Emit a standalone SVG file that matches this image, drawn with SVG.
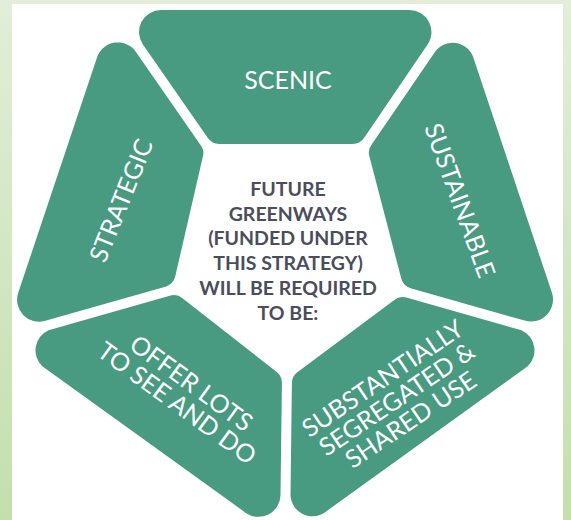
<svg xmlns="http://www.w3.org/2000/svg" width="571" height="520" viewBox="0 0 571 520">
<defs>
<linearGradient id="bg" x1="0" y1="0" x2="0" y2="1">
<stop offset="0" stop-color="#e2eed8"/>
<stop offset="1" stop-color="#c3dfad"/>
</linearGradient>
<style>
.seg{fill:#489a80}
.lbl{font-family:Lato,"Liberation Sans",sans-serif;font-size:25px;fill:#ffffff;text-anchor:middle;dominant-baseline:central}
.ctr{font-family:Lato,"Liberation Sans",sans-serif;font-size:19.5px;font-weight:bold;fill:#4a4d5c;text-anchor:middle}
</style>
</defs>
<rect width="571" height="520" fill="url(#bg)"/>
<rect x="12" y="4" width="551" height="516" fill="#ffffff"/>

<g id="scenic">
<path class="seg" d="M142.9,44.5 A22,22 0 0 1 161,10 L409,10 A22,22 0 0 1 427.4,44.7 L364.2,137.8 A14,14 0 0 1 352.5,144 L219.5,144 A14,14 0 0 1 207.7,137.8 Z"/>
<text class="lbl" x="288" y="79">SCENIC</text>
</g>

<g id="sustainable">
<path class="seg" d="M435.8,50.7 A22,22 0 0 1 472.8,55.9 L551.7,292.1 A22,22 0 0 1 524.6,320.6 L410.6,288.3 A14,14 0 0 1 401.4,279.1 L369.7,157.6 A14,14 0 0 1 372,144.1 Z"/>
<text class="lbl" transform="translate(461,200) rotate(70)" x="0" y="0">SUSTAINABLE</text>
</g>

<g id="substantially">
<path class="seg" d="M521.4,330.2 A22,22 0 0 1 527.7,366.2 L324.1,512.9 A22,22 0 0 1 290.5,495.4 L291.9,383.7 A14,14 0 0 1 298,371.7 L394,300.3 A14,14 0 0 1 407.2,297.8 Z"/>
<text class="lbl" transform="translate(396,398) rotate(-34)"><tspan x="0" y="-25">SUBSTANTIALLY</tspan><tspan x="0" y="0">SEGREGATED &amp;</tspan><tspan x="0" y="25">SHARED USE</tspan></text>
</g>

<g id="offer">
<path class="seg" d="M280.5,495.4 A22,22 0 0 1 245.9,512.9 L42.3,366.2 A22,22 0 0 1 48.6,330.2 L169.7,295.8 A14,14 0 0 1 182.8,298.4 L276.1,371.5 A14,14 0 0 1 281.9,383.6 Z"/>
<text class="lbl" transform="translate(185,392) rotate(36)"><tspan x="0" y="-12">OFFER LOTS</tspan><tspan x="0" y="12.5">TO SEE AND DO</tspan></text>
</g>

<g id="strategic">
<path class="seg" d="M45.3,320.8 A22,22 0 0 1 18.3,292.5 L97.6,55.8 A22,22 0 0 1 134.9,50.5 L200,144.3 A14,14 0 0 1 202.6,157.8 L175.1,277.1 A14,14 0 0 1 166.2,286.4 Z"/>
<text class="lbl" transform="translate(120,200) rotate(-68)" x="0" y="0">STRATEGIC</text>
</g>

<g id="center">
<text class="ctr" x="288" y="196">FUTURE</text>
<text class="ctr" x="288" y="220.5">GREENWAYS</text>
<text class="ctr" x="288" y="245">(FUNDED UNDER</text>
<text class="ctr" x="288" y="270">THIS STRATEGY)</text>
<text class="ctr" x="288" y="295">WILL BE REQUIRED</text>
<text class="ctr" x="288" y="319.5">TO BE:</text>
</g>
</svg>
